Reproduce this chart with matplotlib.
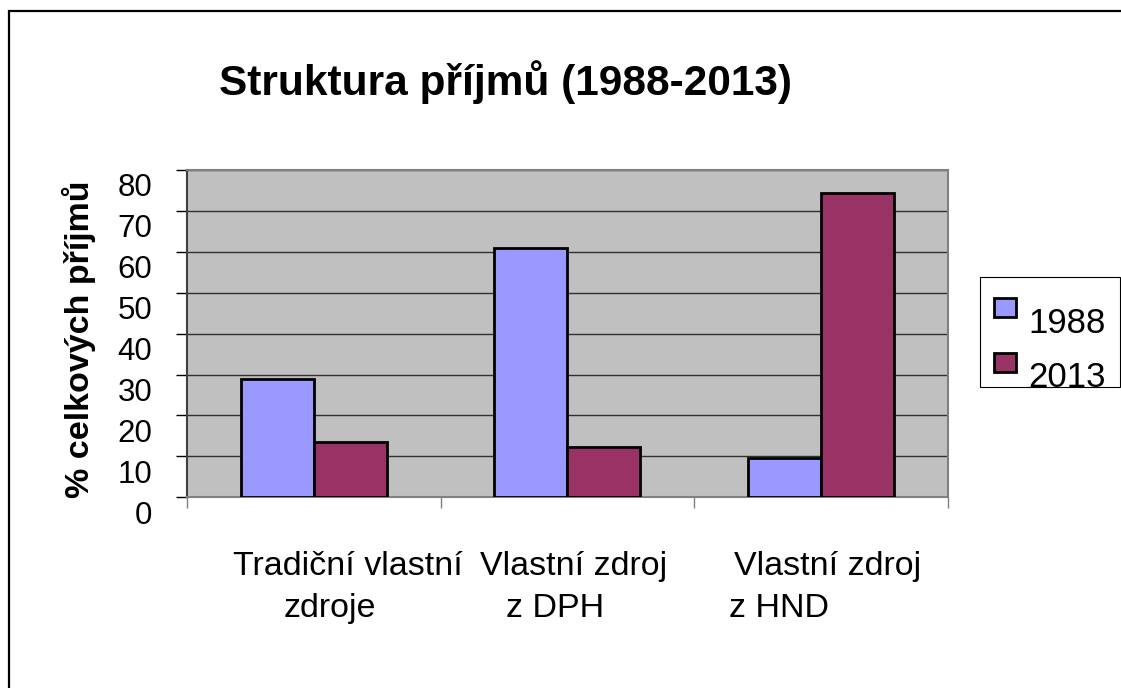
import matplotlib
matplotlib.use("Agg")
import matplotlib.pyplot as plt
from matplotlib.patches import Rectangle
from matplotlib import transforms
import numpy as np

plt.rcParams['font.family'] = ['Liberation Sans', 'DejaVu Sans']

# ---- data ----
categories_line1 = ["Tradiční vlastní", "Vlastní zdroj", "Vlastní zdroj"]
categories_line2 = ["zdroje", "z DPH", "z HND"]
series_names = ["1988", "2013"]
values_1988 = [28.8, 60.9, 9.5]
values_2013 = [13.4, 12.2, 74.5]
y_ticks = [0, 10, 20, 30, 40, 50, 60, 70, 80]
title = "Struktura příjmů (1988-2013)"
ylabel = "% celkových příjmů"

colors = ["#9999FF", "#993366"]

W, H = 1121, 688
fig = plt.figure(figsize=(W / 100, H / 100), dpi=100)

def fx(px):
    return px / W

def fy(py):
    return 1 - py / H

# figure border (left and top visible)
fig.patches.append(Rectangle((fx(8.5), -0.2), 1.5, fy(11) + 0.2,
                             transform=fig.transFigure, fill=False,
                             edgecolor="black", linewidth=1.6))

ax = fig.add_axes([fx(187), fy(497.3), fx(947.5) - fx(187), fy(170) - fy(497.3)])
ax.set_facecolor("#C0C0C0")

x = np.arange(len(values_1988))
bw = 0.288
ax.bar(x - bw / 2, values_1988, width=bw, color=colors[0], edgecolor="black",
       linewidth=2.0, zorder=3)
ax.bar(x + bw / 2, values_2013, width=bw, color=colors[1], edgecolor="black",
       linewidth=2.0, zorder=3)

ax.set_xlim(-0.5, len(x) - 0.5)
ax.set_ylim(0, 80)
ax.set_yticks(y_ticks)
ax.set_yticklabels([str(v) for v in y_ticks], fontsize=22.5)
ax.tick_params(axis="y", direction="out", length=8, width=1, color="black", pad=17)
offset = transforms.ScaledTranslation(0, -0.15, fig.dpi_scale_trans)
for lab in ax.get_yticklabels():
    lab.set_transform(lab.get_transform() + offset)

ax.set_xticks(np.arange(-0.5, len(x), 1.0))
ax.set_xticklabels([])
ax.tick_params(axis="x", direction="out", length=8, width=1, color="#808080")

ax.yaxis.grid(True, color="#303030", linewidth=1.0, zorder=1)
ax.set_axisbelow(True)
for s in ["top", "right", "bottom"]:
    ax.spines[s].set_color("#808080")
    ax.spines[s].set_linewidth(1.5)
ax.spines["left"].set_color("#404040")
ax.spines["left"].set_linewidth(1.5)

# category labels (two lines each)
off1 = [34, 6, 7]
off2 = [16, -12, -42]
bt = transforms.blended_transform_factory(ax.transData, fig.transFigure)
for i in range(len(x)):
    t1 = bt + transforms.ScaledTranslation(off1[i] / 100, 0, fig.dpi_scale_trans)
    t2 = bt + transforms.ScaledTranslation(off2[i] / 100, 0, fig.dpi_scale_trans)
    ax.text(x[i], fy(575), categories_line1[i], transform=t1, ha="center",
            va="baseline", fontsize=24.5, clip_on=False)
    ax.text(x[i], fy(617), categories_line2[i], transform=t2, ha="center",
            va="baseline", fontsize=24.5, clip_on=False)

# title & y label
fig.text(fx(505), fy(95), title, ha="center", va="baseline", fontsize=30.5,
         fontweight="bold")
fig.text(fx(79), fy(339), ylabel, ha="center", va="center", rotation=90,
         fontsize=24.5, fontweight="bold")

# legend (manual)
fig.patches.append(Rectangle((fx(980), fy(387)), fx(1119.5) - fx(980), fy(277) - fy(387),
                             transform=fig.transFigure, facecolor="white",
                             edgecolor="black", linewidth=0.8, zorder=5))
patch_tops = [298, 353]
text_base = [333, 387]
for i, name in enumerate(series_names):
    fig.patches.append(Rectangle((fx(994), fy(patch_tops[i] + 19)), fx(1016) - fx(994),
                                 fy(patch_tops[i]) - fy(patch_tops[i] + 19),
                                 transform=fig.transFigure, facecolor=colors[i],
                                 edgecolor="black", linewidth=2.0, zorder=6))
    fig.text(fx(1028), fy(text_base[i]), name, ha="left", va="baseline",
             fontsize=25, zorder=7)

fig.savefig("out.png", dpi=100)
